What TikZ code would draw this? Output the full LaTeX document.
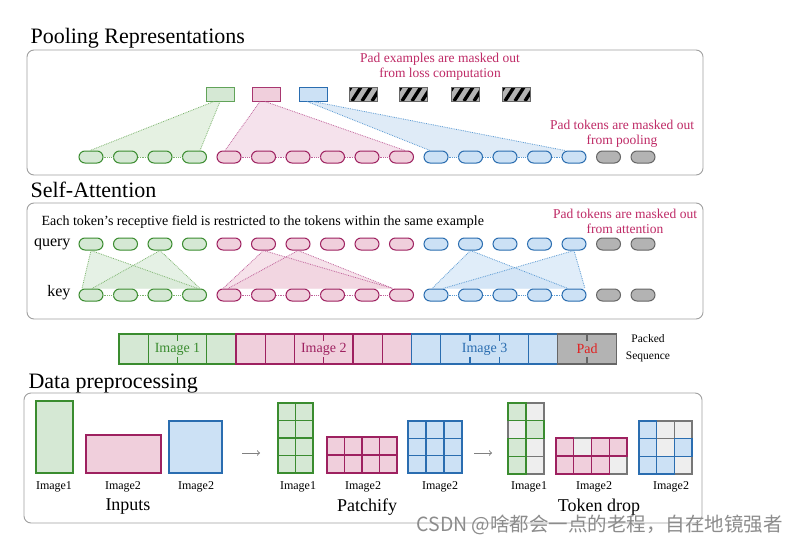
\documentclass[tikz,border=0pt]{standalone}
\usepackage{fontspec}
\setmainfont{Liberation Serif}
\newfontfamily\cjkfont{Noto Sans CJK SC}
\usetikzlibrary{calc}
\pgfdeclarelayer{bg}
\pgfdeclarelayer{paper}
\pgfsetlayers{paper,bg,main}
\definecolor{gF}{HTML}{D5E8D4}
\definecolor{gD}{HTML}{3A8C2F}
\definecolor{pF}{HTML}{F0CFDC}
\definecolor{pD}{HTML}{9E2160}
\definecolor{bF}{HTML}{CCE1F5}
\definecolor{bD}{HTML}{2A6DB0}
\definecolor{xF}{HTML}{B3B3B3}
\definecolor{xD}{HTML}{666666}
\definecolor{dF}{HTML}{EEEEEE}
\definecolor{dD}{HTML}{777777}
\definecolor{mag}{HTML}{BF2A66}
\definecolor{panelc}{HTML}{A0A0A0}
\definecolor{gL}{HTML}{7DB56E}
\definecolor{pL}{HTML}{C0619A}
\definecolor{bL}{HTML}{5A9AD3}
\definecolor{gT}{HTML}{E5F1E2}
\definecolor{pT}{HTML}{F5E2EC}
\definecolor{bT}{HTML}{DFEBF7}
\definecolor{redt}{HTML}{E02020}
\newcommand\myfs[1]{\fontsize{#1}{#1}\selectfont}
\begin{document}
\begin{tikzpicture}[x=1pt,y=-1pt,
  tok/.style={rounded corners=6pt, minimum width=24pt, minimum height=12pt, inner sep=0pt, line width=1pt},
  gtok/.style={tok, fill=gF, draw=gD},
  ptok/.style={tok, fill=pF, draw=pD},
  btok/.style={tok, fill=bF, draw=bD},
  xtok/.style={tok, fill=xF, draw=xD},
  gdot/.style={draw=gL, densely dotted, line width=0.8pt},
  pdot/.style={draw=pL, densely dotted, line width=0.8pt},
  bdot/.style={draw=bL, densely dotted, line width=0.8pt},
  pbox/.style={minimum width=28pt, minimum height=14pt, inner sep=0pt, line width=1pt},
  hbox/.style={pbox, draw=xD, fill=xF, path picture={
     \foreach \s in {-7,3,13,23}{\draw[line width=3.4pt, black] ($(path picture bounding box.south west)+(\s,0)$) -- ++(9,-14);}}},
  panel/.style={draw=panelc, line width=0.9pt, rounded corners=7pt},
  title/.style={anchor=base west, font=\myfs{22}},
  ann/.style={text=mag, align=center, font=\fontsize{13.5}{15}\selectfont},
  lbl/.style={font=\myfs{12}},
  bigcap/.style={font=\myfs{18}},
  gA/.style={fill=gF, fill opacity=0.6},
  pA/.style={fill=pF, fill opacity=0.6},
  bA/.style={fill=bF, fill opacity=0.6},
  cell/.style={line width=1.3pt},
]
\useasboundingbox (0,0) rectangle (802,543);
\begin{pgfonlayer}{paper}
\fill[white] (0,0) rectangle (802,543);
\end{pgfonlayer}

% ================= Pooling =================
\node[title] (t1) at (27,44) {Pooling Representations};
\draw[panel] (27,50) rectangle (703,175);

\node[pbox, fill=gF, draw=gD!80] (g) at (220,94) {};
\node[pbox, fill=pF, draw=pD!90] (pk) at (266,94) {};
\node[pbox, fill=bF, draw=bD] (bl) at (313,94) {};
\node[hbox] (h1) at (363,94) {};
\node[hbox] (h2) at (413,94) {};
\node[hbox] (h3) at (465,94) {};
\node[hbox] (h4) at (516,94) {};

\node[ann] (ann1) at (440,67) {Pad examples are masked out\\from loss computation};
\node[ann] (ann2) at (622,134) {Pad tokens are masked out\\from pooling};

\foreach \i in {0,...,3} {\node[gtok] (p\i) at ({91+34.5*\i},157) {};}
\foreach \i in {4,...,9} {\node[ptok] (p\i) at ({91+34.5*\i},157) {};}
\foreach \i in {10,...,14} {\node[btok] (p\i) at ({91+34.5*\i},157) {};}
\foreach \i in {15,16} {\node[xtok] (p\i) at ({91+34.5*\i},157) {};}

\begin{pgfonlayer}{bg}
\fill[gT] ($(g.south)+(-6,0)$) -- ($(g.south)+(0,0)$) -- ($(p3.north)+(5.5,0)$) -- ($(p3.center)+(5.5,0)$) -- ($(p0.center)+(-1,0)$) -- ($(p0.north)+(-1,0)$) -- cycle;
\fill[pT] ($(pk.south)+(-6,0)$) -- ($(pk.south)+(-1,0)$) -- ($(p9.north)+(3.5,0)$) -- ($(p9.center)+(3.5,0)$) -- ($(p4.center)+(-4,0)$) -- ($(p4.north)+(-4,0)$) -- cycle;
\fill[bT] ($(bl.south)+(-6,0)$) -- ($(bl.south)+(0,0)$) -- ($(p14.north)+(-9,0)$) -- ($(p14.center)+(-9,0)$) -- ($(p10.center)+(-6,0)$) -- ($(p10.north)+(-6,0)$) -- cycle;
\end{pgfonlayer}
\draw[gdot] ($(g.south)+(-6,0)$) -- ($(p0.north)+(-1,0)$);
\draw[gdot] ($(g.south)+(0,0)$) -- ($(p3.north)+(5.5,0)$);
\draw[pdot] ($(pk.south)+(-6,0)$) -- ($(p4.north)+(-4,0)$);
\draw[pdot] ($(pk.south)+(-1,0)$) -- ($(p9.north)+(3.5,0)$);
\draw[bdot] ($(bl.south)+(-6,0)$) -- ($(p10.north)+(-6,0)$);
\draw[bdot] ($(bl.south)+(0,0)$) -- ($(p14.north)+(-9,0)$);
\foreach \i/\j in {0/1,1/2,2/3} {\draw[gdot] (p\i) -- (p\j);}
\foreach \i/\j in {4/5,5/6,6/7,7/8,8/9} {\draw[pdot] (p\i) -- (p\j);}
\foreach \i/\j in {10/11,11/12,12/13,13/14} {\draw[bdot] (p\i) -- (p\j);}

% ================= Self-Attention =================
\node[title] (t2) at (27,197) {Self-Attention};
\draw[panel] (27,203) rectangle (703,319);
\node[anchor=base west, font=\myfs{14}] (capt) at (38,225) {Each token's receptive field is restricted to the tokens within the same example};
\node[ann] (ann3) at (625,221) {Pad tokens are masked out\\from attention};
\node[anchor=base east, font=\myfs{16}] (ql) at (74,246) {query};
\node[anchor=base east, font=\myfs{16}] (kl) at (74,296) {key};

\foreach \r/\y in {q/244,k/295} {
  \foreach \i in {0,...,3} {\node[gtok] (\r\i) at ({91+34.5*\i},\y) {};}
  \foreach \i in {4,...,9} {\node[ptok] (\r\i) at ({91+34.5*\i},\y) {};}
  \foreach \i in {10,...,14} {\node[btok] (\r\i) at ({91+34.5*\i},\y) {};}
  \foreach \i in {15,16} {\node[xtok] (\r\i) at ({91+34.5*\i},\y) {};}
}
\begin{pgfonlayer}{bg}
\fill[gA] (q0.south) -- ($(k0.north)+(-9,0)$) -- ($(k3.north)+(3.5,0)$) -- cycle;
\fill[gA] (q2.south) -- ($(k0.north)+(1,0)$) -- ($(k3.north)+(5.5,0)$) -- cycle;
\fill[pA] (q5.south) -- ($(k4.north)+(-6,0)$) -- ($(k9.north)+(-8.5,0)$) -- cycle;
\fill[pA] (q6.south) -- ($(k4.north)+(-1,0)$) -- ($(k9.north)+(-8.5,0)$) -- cycle;
\fill[bA] (q11.south) -- ($(k10.north)+(-4,0)$) -- ($(k14.north)+(-6,0)$) -- cycle;
\fill[bA] (q14.south) -- ($(k10.north)+(7,0)$) -- ($(k14.north)+(11,0)$) -- cycle;
\end{pgfonlayer}
\draw[gdot] (q0.south) -- ($(k0.north)+(-9,0)$);
\draw[gdot] (q0.south) -- ($(k3.north)+(3.5,0)$);
\draw[gdot] (q2.south) -- ($(k0.north)+(1,0)$);
\draw[gdot] (q2.south) -- ($(k3.north)+(5.5,0)$);
\draw[pdot] (q5.south) -- ($(k4.north)+(-6,0)$);
\draw[pdot] (q5.south) -- ($(k9.north)+(-8.5,0)$);
\draw[pdot] (q6.south) -- ($(k4.north)+(-1,0)$);
\draw[pdot] (q6.south) -- ($(k9.north)+(-8.5,0)$);
\draw[bdot] (q11.south) -- ($(k10.north)+(-4,0)$);
\draw[bdot] (q11.south) -- ($(k14.north)+(-6,0)$);
\draw[bdot] (q14.south) -- ($(k10.north)+(7,0)$);
\draw[bdot] (q14.south) -- ($(k14.north)+(11,0)$);
\foreach \i/\j in {0/1,1/2,2/3} {\draw[gdot] (k\i) -- (k\j);}
\foreach \i/\j in {4/5,5/6,6/7,7/8,8/9} {\draw[pdot] (k\i) -- (k\j);}
\foreach \i/\j in {10/11,11/12,12/13,13/14} {\draw[bdot] (k\i) -- (k\j);}

% ================= Packed sequence =================
\def\cw{29.25}
\def\bx{119}
\begin{scope}[line width=1.1pt]
\draw[gD, fill=gF] (\bx,334) rectangle ({\bx+4*\cw},364);
\draw[pD, fill=pF] ({\bx+4*\cw},334) rectangle ({\bx+10*\cw},364);
\draw[bD, fill=bF] ({\bx+10*\cw},334) rectangle ({\bx+15*\cw},364);
\draw[xD, fill=xF] ({\bx+15*\cw},334) rectangle ({\bx+17*\cw},364);
\foreach \k in {1,3} {\draw[gD] ({\bx+\k*\cw},334) -- ({\bx+\k*\cw},364);}
\foreach \k in {5,6,8,9} {\draw[pD] ({\bx+\k*\cw},334) -- ({\bx+\k*\cw},364);}
\foreach \k in {11,14} {\draw[bD] ({\bx+\k*\cw},334) -- ({\bx+\k*\cw},364);}
\foreach \k/\c in {2/gD,7/pD,12/bD,13/bD,16/xD} {
  \draw[\c] ({\bx+\k*\cw},334) -- ({\bx+\k*\cw},341);
  \draw[\c] ({\bx+\k*\cw},357) -- ({\bx+\k*\cw},364);}
\end{scope}
\node[text=gD, font=\myfs{14}] (s1) at ({\bx+2*\cw},349) {Image 1};
\node[text=pD, font=\myfs{14}] (s2) at ({\bx+7*\cw},349) {Image 2};
\node[text=bD, font=\myfs{14}] (s3) at ({\bx+12.5*\cw},349) {Image 3};
\node[text=redt, font=\myfs{14}] (s4) at ({\bx+16*\cw},349) {Pad};
\node[align=center, font=\fontsize{11.5}{17}\selectfont] (ps) at (648,348) {Packed\\Sequence};

% ================= Data preprocessing =================
\node[title] (t3) at (25,388) {Data preprocessing};
\draw[panel] (24,393) rectangle (702,523);

\draw[cell, gD, fill=gF] (36,401) rectangle (73,473);
\draw[cell, pD, fill=pF] (86,435) rectangle (161,473);
\draw[cell, bD, fill=bF] (169,421) rectangle (222,473);
\node[lbl] (l1) at (54,487) {Image1};
\node[lbl] (l2) at (123,487) {Image2};
\node[lbl] (l3) at (196,487) {Image2};
\node[bigcap] (c1) at (128,507) {Inputs};

\coordinate (a1s) at (242,453); \coordinate (a1e) at (260,453);
\draw[->, gray, line width=1pt] (a1s) -- (a1e);

% patchify
\foreach \c in {0,1} \foreach \r in {0,...,3} {\draw[cell, gD, fill=gF] ({278+17.5*\c},{403+17.5*\r}) rectangle ++(17.5,17.5);}
\foreach \c in {0,...,3} \foreach \r in {0,1} {\draw[cell, pD, fill=pF] ({327+17.5*\c},{437+18*\r}) rectangle ++(17.5,18);}
\foreach \c in {0,1,2} \foreach \r in {0,1,2} {\draw[cell, bD, fill=bF] ({408+18*\c},{421+17.33*\r}) rectangle ++(18,17.33);}
\node[lbl] (l4) at (298,487) {Image1};
\node[lbl] (l5) at (363,487) {Image2};
\node[lbl] (l6) at (440,487) {Image2};
\node[bigcap] (c2) at (367,507) {Patchify};

\coordinate (a2s) at (474,453); \coordinate (a2e) at (492,453);
\draw[->, gray, line width=1pt] (a2s) -- (a2e);

% token drop
\foreach \c/\r in {1/0,0/1,1/2,1/3} {\draw[cell, dD, fill=dF] ({508+18*\c},{403+17.75*\r}) rectangle ++(18,17.75);}
\foreach \c/\r in {0/0,1/1,0/2,0/3} {\draw[cell, gD, fill=gF] ({508+18*\c},{403+17.75*\r}) rectangle ++(18,17.75);}
\foreach \c/\r in {1/0,3/1} {\draw[cell, dD, fill=dF] ({556+17.75*\c},{438+18*\r}) rectangle ++(17.75,18);}
\foreach \c/\r in {0/0,2/0,3/0,0/1,1/1,2/1} {\draw[cell, pD, fill=pF] ({556+17.75*\c},{438+18*\r}) rectangle ++(17.75,18);}
\foreach \c/\r in {1/0,2/0,1/1,2/2} {\draw[cell, dD, fill=dF] ({639+17.7*\c},{421+17.7*\r}) rectangle ++(17.7,17.7);}
\foreach \c/\r in {0/0,0/1,2/1,0/2,1/2} {\draw[cell, bD, fill=bF] ({639+17.7*\c},{421+17.7*\r}) rectangle ++(17.7,17.7);}
\node[lbl] (l7) at (529,487) {Image1};
\node[lbl] (l8) at (594,487) {Image2};
\node[lbl] (l9) at (671,487) {Image2};
\node[bigcap] (c3) at (599,507) {Token drop};

% watermark
\node[anchor=west, text=black!45, font={\cjkfont\myfs{19.5}}] (wm) at (413,525) {CSDN @啥都会一点的老程，自在地镜强者};
\end{tikzpicture}
\end{document}
